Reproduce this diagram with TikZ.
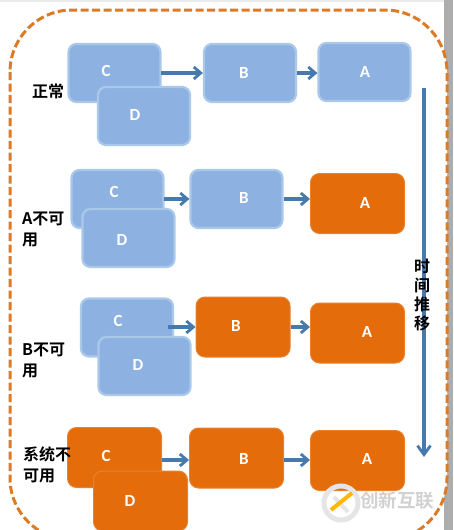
\documentclass[tikz,border=0pt]{standalone}
\usepackage{fontspec}
\setmainfont{Carlito}
\newfontfamily\cjk{Noto Sans CJK SC}[BoldFont={Noto Sans CJK SC Bold}]
\usetikzlibrary{arrows.meta}
\definecolor{blueb}{HTML}{8DB1E1}
\definecolor{blueedge}{HTML}{A9C8EA}
\definecolor{orangeb}{HTML}{E46C0A}
\definecolor{arrowc}{HTML}{4679AE}
\definecolor{dashc}{HTML}{DB7B25}
\tikzset{
 x=1pt,y=-1pt,
 boxb/.style={draw=blueedge,line width=2.2pt,fill=blueb,rounded corners=8pt,minimum width=92pt,minimum height=58pt,inner sep=0pt},
 boxo/.style={draw=orangeb!85!white,line width=1pt,fill=orangeb,rounded corners=9pt,minimum width=94pt,minimum height=60pt,inner sep=0pt},
 tag/.style={text=white,inner sep=0pt,font=\bfseries\fontsize{17}{17}\selectfont},
 conn/.style={draw=arrowc,line width=3.2pt,-{Straight Barb[length=7pt,width=12pt,line width=2.8pt]}},
 lab/.style={font=\cjk\bfseries\fontsize{16}{21}\selectfont,align=left,inner sep=0pt,anchor=west,text=black},
}
\begin{document}
\begin{tikzpicture}
\useasboundingbox (0,0) rectangle (453,530);
\fill[white] (0,0) rectangle (453,530);
\fill[black!8] (0,0) rectangle (453,2);
\fill[black!32] (444,0) rectangle (453,530);
% frame
\draw[dashc,line width=3pt,dash pattern=on 8pt off 3.5pt,fill=white,rounded corners=62pt] (10,10) rectangle (447,540);
% row 1
\node[boxb] (c1) at (114.5,73) {};
\node[boxb] (d1) at (144,116) {};
\node[boxb] (b1) at (250,73) {};
\node[boxb] (a1) at (364.5,72) {};
\node[tag] (ct1) at (106,71) {C};
\node[tag] (dt1) at (135,115) {D};
\node[tag] (bt1) at (244,73) {B};
\node[tag] (at1) at (365,72) {A};
% row 2
\node[boxb] (c2) at (117.5,199) {};
\node[boxb] (d2) at (128.5,238) {};
\node[boxb] (b2) at (236.5,199) {};
\node[boxo] (a2) at (357.5,203.5) {};
\node[tag] (ct2) at (114,192) {C};
\node[tag] (dt2) at (122,240) {D};
\node[tag] (bt2) at (244,198) {B};
\node[tag] (at2) at (365,203) {A};
% row 3
\node[boxb] (c3) at (127,327.5) {};
\node[boxb] (d3) at (144.5,366) {};
\node[boxo] (b3) at (243,327) {};
\node[boxo] (a3) at (357.5,333) {};
\node[tag] (ct3) at (118,321) {C};
\node[tag] (dt3) at (138,365) {D};
\node[tag] (bt3) at (236,326) {B};
\node[tag] (at3) at (367,332) {A};
% row 4
\node[boxo] (c4) at (114.5,457.5) {};
\node[boxo] (d4) at (140.5,501) {};
\node[boxo] (b4) at (236.5,458) {};
\node[boxo] (a4) at (357.5,460.5) {};
\node[tag] (ct4) at (106,456) {C};
\node[tag] (dt4) at (130,501) {D};
\node[tag] (bt4) at (244,459) {B};
\node[tag] (at4) at (367,459) {A};
% connectors
\coordinate (s1) at (161,73);
\coordinate (s2) at (164,199);
\coordinate (s3) at (168,327);
\coordinate (s4) at (162,460);
\draw[conn] (s1) -- (s1 -| b1.west);
\draw[conn] (b1.east) -- (b1.east -| a1.west);
\draw[conn] (s2) -- (s2 -| b2.west);
\draw[conn] (b2.east) -- (b2.east -| a2.west);
\draw[conn] (s3) -- (s3 -| b3.west);
\draw[conn] (b3.east) -- (b3.east -| a3.west);
\draw[conn] (s4) -- (s4 -| b4.west);
\draw[conn] (s4 -| b4.east) -- (s4 -| a4.west);
\coordinate (ts) at (424,88);
\coordinate (te) at (424,457);
\draw[draw=arrowc,line width=3.2pt,-{Straight Barb[length=9pt,width=13pt,line width=2.8pt]}] (ts) -- (te);
% labels
\node[lab] (l1) at (32,91) {正常};
\node[lab] (l2) at (22,229) {A不可\\用};
\node[lab] (l3) at (22,360.5) {B不可\\用};
\node[lab] (l4) at (23,465) {系统不\\可用};
\node[lab,align=center,anchor=center,font=\cjk\bfseries\fontsize{16}{19}\selectfont] (l5) at (422,295) {时\\间\\推\\移};
% watermark
\draw[black!10,line width=5pt] (341,503) circle (17pt);
\draw[black!10,line width=4pt] (334,497) -- (348,512);
\draw[orange!55!yellow,line width=4pt] (352,493) -- (331,510);
\node[text=black!18,font=\cjk\bfseries\fontsize{18.5}{18.5}\selectfont,inner sep=0pt,anchor=west] (wm) at (360,501) {创新互联};
\end{tikzpicture}
\end{document}
